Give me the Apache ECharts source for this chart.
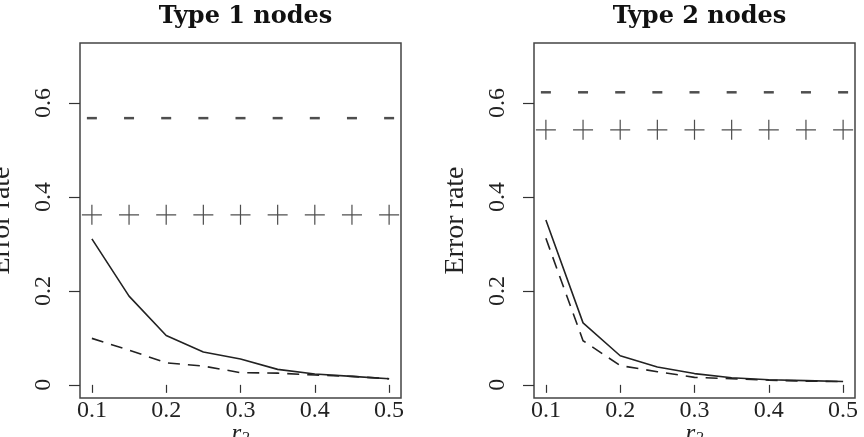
<!DOCTYPE html>
<html>
<head>
<meta charset="utf-8">
<script src="https://cdn.jsdelivr.net/npm/echarts@6.0.0/dist/echarts.min.js"></script>
<style>
  html, body { margin: 0; padding: 0; background: #fff; }
  #chart { width: 864px; height: 437px; }
</style>
</head>
<body>
<div id="chart"></div>
<script>
// r2 values along the x axis
var xVals = [0.1, 0.15, 0.2, 0.25, 0.3, 0.35, 0.4, 0.45, 0.5];
var xTicks = ["0.1", "0.2", "0.3", "0.4", "0.5"];
var yTicks = ["0", "0.2", "0.4", "0.6"];

// Type 1 nodes
var t1Solid  = [0.311, 0.189, 0.105, 0.070, 0.055, 0.033, 0.023, 0.018, 0.013];
var t1Dashed = [0.099, 0.074, 0.047, 0.040, 0.026, 0.025, 0.021, 0.018, 0.013];
var t1Minus  = [0.568, 0.568, 0.568, 0.568, 0.568, 0.568, 0.568, 0.568, 0.568];
var t1Plus   = [0.362, 0.362, 0.362, 0.362, 0.362, 0.362, 0.362, 0.362, 0.362];

// Type 2 nodes
var t2Solid  = [0.351, 0.132, 0.062, 0.038, 0.024, 0.015, 0.011, 0.009, 0.007];
var t2Dashed = [0.312, 0.094, 0.041, 0.028, 0.016, 0.013, 0.010, 0.008, 0.007];
var t2Minus  = [0.623, 0.623, 0.623, 0.623, 0.623, 0.623, 0.623, 0.623, 0.623];
var t2Plus   = [0.543, 0.543, 0.543, 0.543, 0.543, 0.543, 0.543, 0.543, 0.543];

var titles = ["Type 1 nodes", "Type 2 nodes"];

var serif = "'Liberation Serif', serif";
var ink = "#222";
var plusPath = "path://M0,9.4h20v1.2h-20z M9.4,0h1.2v20h-1.2z";

function pairs(ys) {
    return xVals.map(function(x, i) { return [x, ys[i]]; });
}

var panels = [
    { left: 80,  solid: t1Solid, dashed: t1Dashed, minus: t1Minus, plus: t1Plus },
    { left: 534, solid: t2Solid, dashed: t2Dashed, minus: t2Minus, plus: t2Plus }
];

var option = {
    backgroundColor: "#fff",
    animation: false,
    title: [], grid: [], xAxis: [], yAxis: [], series: []
};

panels.forEach(function(p, k) {
    option.title.push({
        text: titles[k],
        left: p.left + 160.5,
        textAlign: "center",
        top: 0,
        textStyle: { fontFamily: "'DejaVu Serif', serif", fontWeight: "bold", fontSize: 24, color: "#111" }
    });
    option.grid.push({
        left: p.left, top: 43, width: 321, height: 355,
        outerBoundsMode: "none",
        show: true, borderColor: "#444", borderWidth: 1.5, backgroundColor: "transparent"
    });
    option.xAxis.push({
        type: "value", gridIndex: k, min: 0.084, max: 0.516,
        axisLine: { show: false },
        splitLine: { show: false },
        axisTick: { show: true, length: 8, lineStyle: { color: "#333", width: 1.2 }, customValues: xTicks.map(Number) },
        axisLabel: {
            margin: 1, fontFamily: serif, fontSize: 24, color: "#222",
            customValues: xTicks.map(Number),
            formatter: function(v) { return xTicks[Math.round(v * 10) - 1]; }
        },
        name: "{r|r}{s|2}",
        nameLocation: "middle",
        nameMoveOverlap: false,
        nameGap: 24,
        nameTextStyle: {
            rich: {
                r: { fontFamily: serif, fontStyle: "italic", fontSize: 25, color: "#222" },
                s: { fontFamily: serif, fontStyle: "italic", fontSize: 17, color: "#222", verticalAlign: "bottom" }
            }
        }
    });
    option.yAxis.push({
        type: "value", gridIndex: k, min: -0.028, max: 0.728,
        axisLine: { show: false },
        splitLine: { show: false },
        axisTick: { show: true, length: 11, lineStyle: { color: "#333", width: 1.2 }, customValues: [0, 0.2, 0.4, 0.6] },
        axisLabel: {
            rotate: 90, margin: 24, fontFamily: serif, fontSize: 24, color: "#222",
            customValues: [0, 0.2, 0.4, 0.6],
            formatter: function(v) { return yTicks[Math.round(v * 5)]; }
        },
        name: "Error rate",
        nameLocation: "middle",
        nameMoveOverlap: false,
        nameGap: 64,
        nameTextStyle: { fontFamily: serif, fontSize: 28, color: "#222" }
    });
    option.series.push({
        type: "line", xAxisIndex: k, yAxisIndex: k, data: pairs(p.solid),
        symbol: "none", lineStyle: { color: ink, width: 1.6 }
    });
    option.series.push({
        type: "line", xAxisIndex: k, yAxisIndex: k, data: pairs(p.dashed),
        symbol: "none", lineStyle: { color: ink, width: 1.6, type: [12, 8] }
    });
    option.series.push({
        type: "scatter", xAxisIndex: k, yAxisIndex: k, data: pairs(p.minus),
        symbol: "rect", symbolSize: [10, 2.5], itemStyle: { color: ink }
    });
    option.series.push({
        type: "scatter", xAxisIndex: k, yAxisIndex: k, data: pairs(p.plus),
        symbol: plusPath, symbolSize: 20, itemStyle: { color: "#222" }
    });
});

var chart = echarts.init(document.getElementById("chart"));
chart.setOption(option);
</script>
</body>
</html>
